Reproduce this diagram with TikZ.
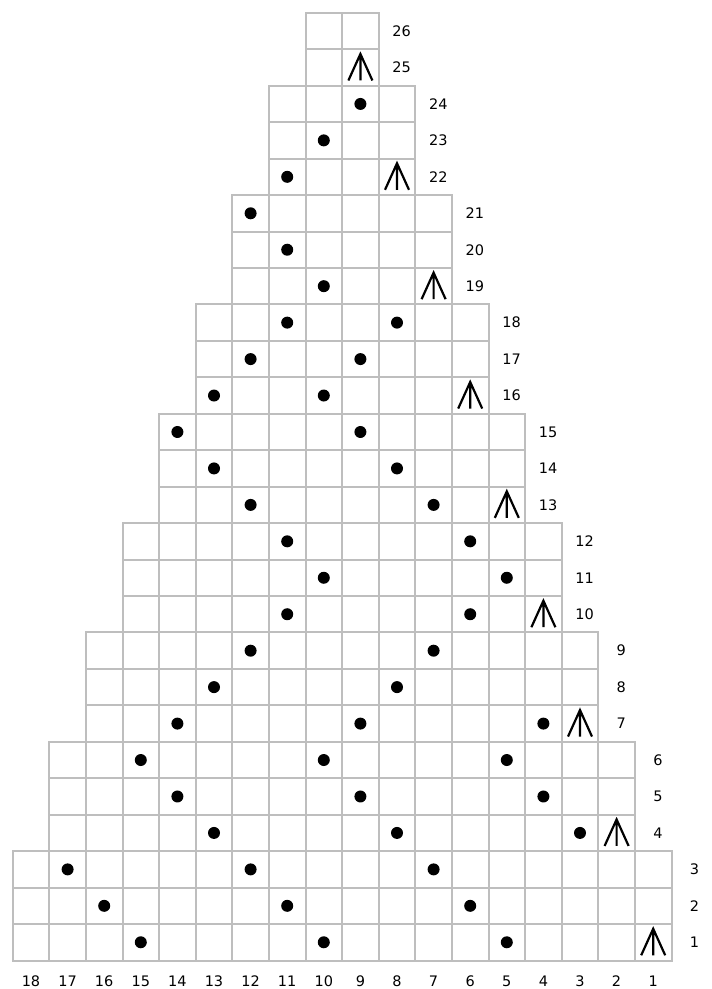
\documentclass[tikz,border=0pt]{standalone}
\usepackage{fontspec}
\setmainfont{DejaVu Sans}
\definecolor{gridgray}{RGB}{190,190,190}
\begin{document}
\begin{tikzpicture}[x=1pt,y=-1pt,
  cell/.style={draw=gridgray, line width=2pt, minimum width=36.6pt, minimum height=36.45pt, inner sep=0pt, outer sep=0pt},
  lbl/.style={font=\fontsize{14.5}{16}\selectfont, inner sep=0pt, text=black},
  dotmark/.style={fill=black},
  decmark/.style={draw=black, line width=2.2pt, line cap=butt, line join=miter}]
\useasboundingbox (0,0) rectangle (712,989);
% grid cells
\foreach \r in {1,...,26}{
  \pgfmathtruncatemacro\t{div(\r-1,3)}
  \pgfmathtruncatemacro\lo{1+\t}
  \pgfmathtruncatemacro\hi{18-\t}
  \foreach \c in {\lo,...,\hi}{
    \node[cell] (c\r-\c) at ({12.7+(18-\c+0.5)*36.6},{960.5-(\r-0.5)*36.45}) {};
  }
  \node[lbl] (r\r) at ([xshift=23pt]c\r-\lo.east) {\r};
}
% column labels
\foreach \c in {1,...,18}{
  \node[lbl] (k\c) at ([yshift=-20.5pt]c1-\c.south) {\c};
}
% dots
\foreach \r/\cs in {1/{15,10,5},2/{16,11,6},3/{17,12,7},4/{13,8,3},5/{14,9,4},6/{15,10,5},
  7/{14,9,4},8/{13,8},9/{12,7},10/{11,6},11/{10,5},12/{11,6},13/{12,7},14/{13,8},15/{14,9},
  16/{13,10},17/{12,9},18/{11,8},19/{10},20/{11},21/{12},22/{11},23/{10},24/{9}}{
  \foreach \c in \cs{
    \fill[dotmark] (c\r-\c.center) circle (6);
  }
}
% central double decrease marks
\foreach \r/\c in {1/1,4/2,7/3,10/4,13/5,16/6,19/7,22/8,25/9}{
  \draw[decmark, shift={(c\r-\c.center)}] (-12,13) -- (0,-13.5) -- (12,13) (0,-13.5) -- (0,13);
}
\end{tikzpicture}
\end{document}
